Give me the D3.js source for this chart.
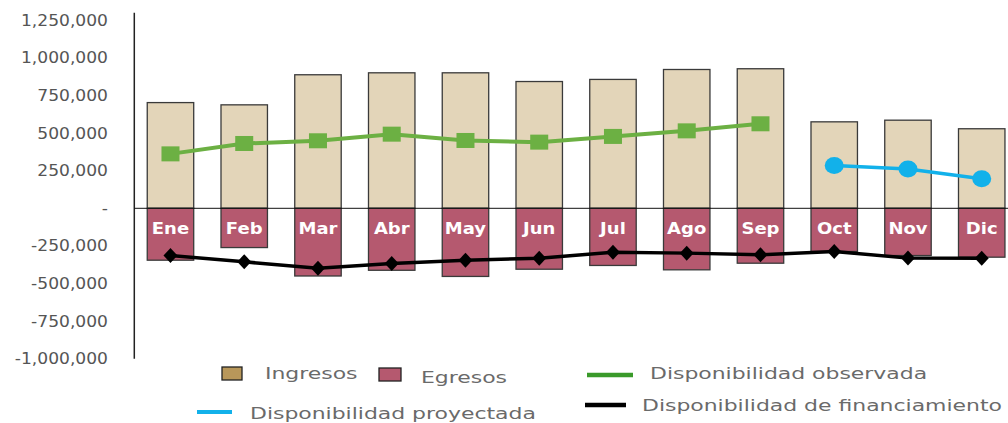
<!DOCTYPE html>
<html>
<head>
<meta charset="utf-8">
<script src="https://cdn.jsdelivr.net/npm/d3@7"></script>
<style>
  body { margin: 0; background: #fff; }
  text { font-family: "DejaVu Sans", sans-serif; }
</style>
</head>
<body>
<div id="chart"></div>
<script>
"use strict";

const months = ["Ene", "Feb", "Mar", "Abr", "May", "Jun", "Jul", "Ago", "Sep", "Oct", "Nov", "Dic"];
const ingresos = [703000, 688000, 888000, 901000, 901000, 843000, 857000, 923000, 928000, 575000, 586000, 529000];
const egresos = [-345000, -261000, -450000, -412000, -453000, -405000, -380000, -409000, -365000, -287000, -314000, -325000];
const observada = [362000, 431000, 449000, 493000, 451000, 440000, 478000, 515000, 562000, null, null, null];
const proyectada = [null, null, null, null, null, null, null, null, null, 285000, 261000, 196000];
const financiamiento = [-314000, -356000, -399000, -367000, -345000, -332000, -292000, -298000, -309000, -287000, -331000, -332000];
const yTicks = [-1000000, -750000, -500000, -250000, 0, 250000, 500000, 750000, 1000000, 1250000];

var width = 1008,
    height = 423;

var svg = d3.select("#chart").append("svg")
  .attr("width", width)
  .attr("height", height);

var x = d3.scaleBand()
  .domain(months)
  .range([133.6, 1018.6])
  .paddingInner(0.37)
  .paddingOuter(0.185);

var y = d3.scaleLinear()
  .domain([-1000000, 1300000])
  .range([358.7, 12.8]);

// stretch text sideways, the original looks wider than our fonts
function stretch(sel, k) {
  sel.each(function() {
    var w = this.getComputedTextLength();
    d3.select(this).attr("textLength", w * k).attr("lengthAdjust", "spacingAndGlyphs");
  });
}

// y tick labels (plain hyphen for negatives, dash for zero)
var fmt = d3.formatLocale({ decimal: ".", thousands: ",", grouping: [3], currency: ["$", ""], minus: "-" }).format(",");
svg.append("g").selectAll("text").data(yTicks)
  .enter().append("text")
    .attr("x", 108)
    .attr("y", d => y(d))
    .attr("dy", "0.36em")
    .attr("text-anchor", "end")
    .attr("fill", "#555")
    .style("font-size", "15px")
    .text(d => d === 0 ? "-" : fmt(d))
    .call(stretch, 1.14);

// bars
svg.append("g").selectAll("rect").data(months)
  .enter().append("rect")
    .attr("x", d => x(d))
    .attr("width", x.bandwidth())
    .attr("y", (d, i) => y(ingresos[i]))
    .attr("height", (d, i) => y(0) - y(ingresos[i]))
    .attr("fill", "#e3d5b9")
    .attr("stroke", "#3a3a3a")
    .attr("stroke-width", 1.3);

svg.append("g").selectAll("rect").data(months)
  .enter().append("rect")
    .attr("x", d => x(d))
    .attr("width", x.bandwidth())
    .attr("y", y(0))
    .attr("height", (d, i) => y(egresos[i]) - y(0))
    .attr("fill", "#b5596f")
    .attr("stroke", "#3a3a3a")
    .attr("stroke-width", 1.3);

// axis lines
svg.append("line")
  .attr("x1", 134.3).attr("x2", 134.3)
  .attr("y1", y(1300000)).attr("y2", y(-1000000))
  .attr("stroke", "#222").attr("stroke-width", 1.5);
svg.append("line")
  .attr("x1", 134.3).attr("x2", width)
  .attr("y1", y(0)).attr("y2", y(0))
  .attr("stroke", "#111").attr("stroke-width", 1);

// month labels inside the negative bars
svg.append("g").selectAll("text").data(months)
  .enter().append("text")
    .attr("x", d => x(d) + x.bandwidth() / 2)
    .attr("y", 229)
    .attr("dy", "0.36em")
    .attr("text-anchor", "middle")
    .attr("fill", "#fff")
    .style("font-size", "15px")
    .style("font-weight", "bold")
    .text(d => d)
    .call(stretch, 1.2);

var cx = (d, i) => x(months[i]) + x.bandwidth() / 2;

// financiamiento line
var line = d3.line()
  .defined(d => d !== null)
  .x(cx)
  .y(d => y(d));

svg.append("path").datum(financiamiento)
  .attr("d", line)
  .attr("fill", "none")
  .attr("stroke", "#000")
  .attr("stroke-width", 3.5);
svg.append("g").selectAll("path").data(financiamiento)
  .enter().append("path")
    .attr("transform", (d, i) => "translate(" + cx(d, i) + "," + y(d) + ")")
    .attr("d", "M0,-7.5L7,0L0,7.5L-7,0Z")
    .attr("fill", "#000");

// observada line
svg.append("path").datum(observada)
  .attr("d", line)
  .attr("fill", "none")
  .attr("stroke", "#6cb043")
  .attr("stroke-width", 4);
svg.append("g").selectAll("rect").data(observada.map((d, i) => [d, i]).filter(p => p[0] !== null))
  .enter().append("rect")
    .attr("x", p => cx(p[0], p[1]) - 9)
    .attr("y", p => y(p[0]) - 7.5)
    .attr("width", 18)
    .attr("height", 15)
    .attr("fill", "#6cb043");

// proyectada line
svg.append("path").datum(proyectada)
  .attr("d", line)
  .attr("fill", "none")
  .attr("stroke", "#12b1ea")
  .attr("stroke-width", 3.5);
svg.append("g").selectAll("ellipse").data(proyectada.map((d, i) => [d, i]).filter(p => p[0] !== null))
  .enter().append("ellipse")
    .attr("cx", p => cx(p[0], p[1]))
    .attr("cy", p => y(p[0]))
    .attr("rx", 9.5)
    .attr("ry", 8.5)
    .attr("fill", "#12b1ea");

// legend
var legend = svg.append("g").style("font-size", "16px").attr("fill", "#6a6a6a");

legend.append("rect").attr("x", 222).attr("y", 367).attr("width", 20).attr("height", 13)
  .attr("fill", "#b8975a").attr("stroke", "#222").attr("stroke-width", 1.3);
legend.append("text").attr("x", 265).attr("y", 373).attr("dy", "0.36em").text("Ingresos").call(stretch, 1.37);

legend.append("rect").attr("x", 379).attr("y", 368).attr("width", 22).attr("height", 13)
  .attr("fill", "#b5596f").attr("stroke", "#222").attr("stroke-width", 1.3);
legend.append("text").attr("x", 421).attr("y", 377).attr("dy", "0.36em").text("Egresos").call(stretch, 1.37);

legend.append("line").attr("x1", 587).attr("x2", 633).attr("y1", 375).attr("y2", 375)
  .attr("stroke", "#3a9a2a").attr("stroke-width", 4.5);
legend.append("text").attr("x", 650).attr("y", 373).attr("dy", "0.36em").text("Disponibilidad observada").call(stretch, 1.37);

legend.append("line").attr("x1", 197).attr("x2", 232).attr("y1", 412).attr("y2", 412)
  .attr("stroke", "#12b1ea").attr("stroke-width", 4);
legend.append("text").attr("x", 250).attr("y", 413).attr("dy", "0.36em").text("Disponibilidad proyectada").call(stretch, 1.37);

legend.append("line").attr("x1", 585).attr("x2", 626).attr("y1", 405).attr("y2", 405)
  .attr("stroke", "#000").attr("stroke-width", 4.5);
legend.append("text").attr("x", 642).attr("y", 405).attr("dy", "0.36em").text("Disponibilidad de financiamiento").call(stretch, 1.37);
</script>
</body>
</html>
